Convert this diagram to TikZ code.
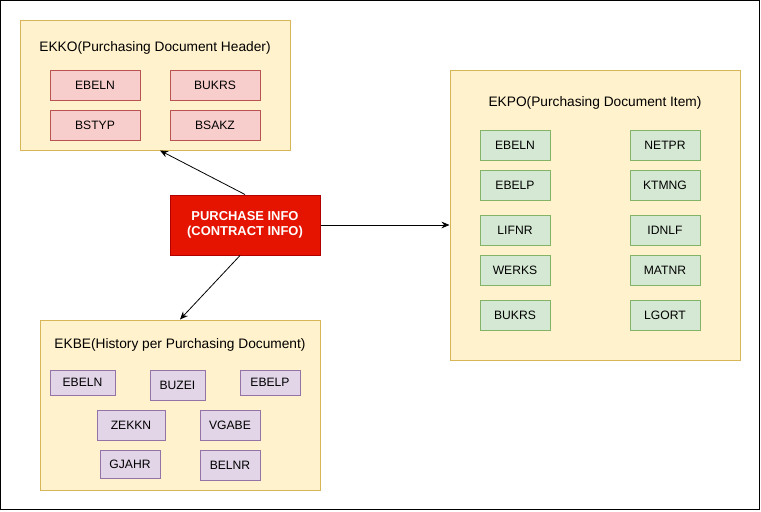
\documentclass[tikz,border=0pt]{standalone}
\usepackage{fontspec}
\setmainfont{Liberation Sans}
\usetikzlibrary{arrows.meta}

\definecolor{tablefill}{HTML}{FFF2CC}
\definecolor{tableline}{HTML}{D6B656}
\definecolor{keyfill}{HTML}{F8CECC}
\definecolor{keyline}{HTML}{B85450}
\definecolor{itemfill}{HTML}{D5E8D4}
\definecolor{itemline}{HTML}{82B366}
\definecolor{histfill}{HTML}{E1D5E7}
\definecolor{histline}{HTML}{9673A6}
\definecolor{infofill}{HTML}{E51400}
\definecolor{infoline}{HTML}{B20000}

\begin{document}
\begin{tikzpicture}[x=0.75pt,y=-0.75pt,
        size/.style 2 args={minimum width=#1*0.75pt, minimum height=#2*0.75pt, inner sep=0pt},
        table/.style={draw=tableline, fill=tablefill, line width=0.75pt},
        title/.style={font=\fontsize{10.3}{12}\selectfont, inner sep=0pt},
        field/.style={font=\fontsize{9.1}{11}\selectfont, line width=0.75pt},
        ekkofield/.style={field, draw=keyline, fill=keyfill},
        ekpofield/.style={field, draw=itemline, fill=itemfill},
        ekbefield/.style={field, draw=histline, fill=histfill},
        link/.style={-{Stealth[length=6pt,width=5pt]}, line width=0.6pt}]
        \useasboundingbox (0,0) rectangle (761,511);
        \draw[line width=0.75pt] (0.5,0.5) rectangle (759.5,509.5);

        \node[table, size={270}{130}] (ekko) at (155,85) {};
        \node[title] (ekkotitle) at (155,48) {EKKO(Purchasing Document Header)};
        \node[ekkofield, size={90}{30}] (ekkoebeln) at (95,85) {EBELN};
        \node[ekkofield, size={90}{30}] (ekkobukrs) at (215,85) {BUKRS};
        \node[ekkofield, size={90}{30}] (ekkobstyp) at (95,125) {BSTYP};
        \node[ekkofield, size={90}{30}] (ekkobsakz) at (215,125) {BSAKZ};

        \node[table, size={290}{290}] (ekpo) at (595,215) {};
        \node[title] (ekpotitle) at (595,103) {EKPO(Purchasing Document Item)};
        \node[ekpofield, size={70}{30}] (ekpoebeln) at (515,145) {EBELN};
        \node[ekpofield, size={70}{30}] (ekpoebelp) at (515,185) {EBELP};
        \node[ekpofield, size={70}{30}] (ekpolifnr) at (515,230) {LIFNR};
        \node[ekpofield, size={70}{30}] (ekpowerks) at (515,270) {WERKS};
        \node[ekpofield, size={70}{30}] (ekpobukrs) at (515,315) {BUKRS};
        \node[ekpofield, size={70}{30}] (ekponetpr) at (665,145) {NETPR};
        \node[ekpofield, size={70}{30}] (ekpoktmng) at (665,185) {KTMNG};
        \node[ekpofield, size={70}{30}] (ekpoidnlf) at (665,230) {IDNLF};
        \node[ekpofield, size={70}{30}] (ekpomatnr) at (665,270) {MATNR};
        \node[ekpofield, size={70}{30}] (ekpolgort) at (665,315) {LGORT};

        \node[table, size={280}{170}] (ekbe) at (180,405) {};
        \node[title] (ekbetitle) at (180,345) {EKBE(History per Purchasing Document)};
        \node[ekbefield, size={65}{25}] (ekbeebeln) at (82.5,382.5) {EBELN};
        \node[ekbefield, size={55}{30}] (ekbebuzei) at (177.5,385) {BUZEI};
        \node[ekbefield, size={60}{25}] (ekbeebelp) at (270,382.5) {EBELP};
        \node[ekbefield, size={68}{30}] (ekbezekkn) at (131,425) {ZEKKN};
        \node[ekbefield, size={60}{30}] (ekbevgabe) at (230,425) {VGABE};
        \node[ekbefield, size={60}{28}] (ekbegjahr) at (130,464) {GJAHR};
        \node[ekbefield, size={60}{30}] (ekbebelnr) at (230,465) {BELNR};

        \node[draw=infoline, fill=infofill, text=white, size={150}{60}, line width=0.75pt,
              align=center, font=\bfseries\fontsize{9.7}{11.5}\selectfont] (info) at (245,225)
              {PURCHASE INFO\\(CONTRACT INFO)};

        \draw[link] (info.north) -- ([xshift=3.75pt]ekko.south);
        \draw[link] (info.east) -- (info.east -| ekpo.west);
        \draw[link] ([xshift=-3.75pt]info.south) -- (ekbe.north);
    \end{tikzpicture}
\end{document}
